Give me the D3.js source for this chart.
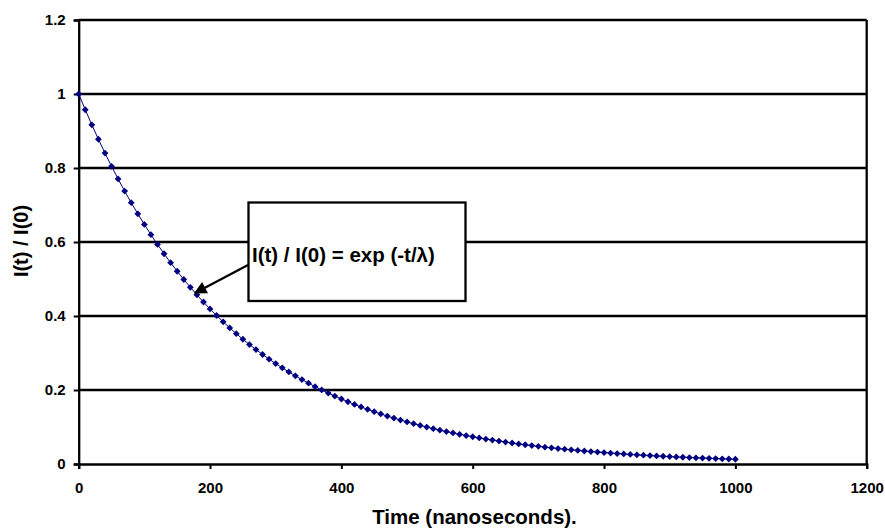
<!DOCTYPE html>
<html>
<head>
<meta charset="utf-8">
<script src="https://cdn.jsdelivr.net/npm/d3@7"></script>
<style>
  body { margin: 0; background: #fff; }
  svg { display: block; font-family: Arial, "Liberation Sans", sans-serif; }
</style>
</head>
<body>
<svg id="chart" width="885" height="529"></svg>
<script>
// time axis, ns
const times = [0, 10, 20, 30, 40, 50, 60, 70, 80, 90,
  100, 110, 120, 130, 140, 150, 160, 170, 180, 190,
  200, 210, 220, 230, 240, 250, 260, 270, 280, 290,
  300, 310, 320, 330, 340, 350, 360, 370, 380, 390,
  400, 410, 420, 430, 440, 450, 460, 470, 480, 490,
  500, 510, 520, 530, 540, 550, 560, 570, 580, 590,
  600, 610, 620, 630, 640, 650, 660, 670, 680, 690,
  700, 710, 720, 730, 740, 750, 760, 770, 780, 790,
  800, 810, 820, 830, 840, 850, 860, 870, 880, 890,
  900, 910, 920, 930, 940, 950, 960, 970, 980, 990, 1000]

// I(t)/I(0)
const ratio = [1, 0.9575, 0.9167, 0.8777, 0.8404, 0.8046, 0.7704, 0.7376, 0.7062, 0.6762,
  0.6474, 0.6199, 0.5935, 0.5682, 0.5441, 0.5209, 0.4987, 0.4775, 0.4572, 0.4378,
  0.4191, 0.4013, 0.3842, 0.3679, 0.3522, 0.3372, 0.3229, 0.3092, 0.2960, 0.2834,
  0.2714, 0.2598, 0.2488, 0.2382, 0.2281, 0.2184, 0.2091, 0.2002, 0.1917, 0.1835,
  0.1757, 0.1682, 0.1611, 0.1542, 0.1477, 0.1414, 0.1353, 0.1296, 0.1241, 0.1188,
  0.1137, 0.1089, 0.1043, 0.0998, 0.0956, 0.0915, 0.0876, 0.0839, 0.0803, 0.0769,
  0.0736, 0.0705, 0.0675, 0.0646, 0.0619, 0.0592, 0.0567, 0.0543, 0.0520, 0.0498,
  0.0477, 0.0456, 0.0437, 0.0418, 0.0401, 0.0383, 0.0367, 0.0352, 0.0337, 0.0322,
  0.0309, 0.0295, 0.0283, 0.0271, 0.0259, 0.0248, 0.0238, 0.0228, 0.0218, 0.0209,
  0.0200, 0.0191, 0.0183, 0.0175, 0.0168, 0.0161, 0.0154, 0.0147, 0.0141, 0.0135, 0.0129]

const xTicks = [0, 200, 400, 600, 800, 1000, 1200]
const yTicks = [0, 0.2, 0.4, 0.6, 0.8, 1, 1.2]

const formula = 'I(t) / I(0) = exp (-t/λ)'
const xTitle = 'Time (nanoseconds).'
const yTitle = 'I(t) / I(0)'

const plotLeft = 78.7
const plotRight = 866.7
const plotTop = 20
const plotBottom = 464

const svg = d3.select('#chart')

const x = d3.scaleLinear().domain([0, 1200]).range([plotLeft, plotRight])
const y = d3.scaleLinear().domain([0, 1.2]).range([plotBottom, plotTop])

// grid lines
svg.append('g')
  .selectAll('line')
  .data(yTicks.filter(d => d > 0))
  .join('line')
  .attr('x1', plotLeft).attr('x2', plotRight)
  .attr('y1', d => y(d)).attr('y2', d => y(d))
  .attr('stroke', '#000').attr('stroke-width', 2.3)

// right border
svg.append('line')
  .attr('x1', plotRight).attr('x2', plotRight)
  .attr('y1', plotTop).attr('y2', plotBottom)
  .attr('stroke', '#000').attr('stroke-width', 2.3)

const yAxis = svg.append('g')
  .attr('transform', `translate(${plotLeft},0)`)
  .call(d3.axisLeft(y).tickValues(yTicks).tickSize(5).tickPadding(8)
    .tickFormat(d => String(+d.toFixed(1))))

const xAxis = svg.append('g')
  .attr('transform', `translate(0,${plotBottom})`)
  .call(d3.axisBottom(x).tickValues(xTicks).tickSize(5).tickPadding(13)
    .tickFormat(d3.format('d')))

for (const ax of [xAxis, yAxis]) {
  ax.select('.domain').attr('stroke', '#000').attr('stroke-width', 2.3)
  ax.selectAll('.tick line').attr('stroke', '#000').attr('stroke-width', 2)
  ax.selectAll('text')
    .attr('fill', '#000')
    .style('font-size', '15px')
    .style('font-weight', 'bold')
}

// data line + markers
const pts = times.map((t, i) => [t, ratio[i]])
svg.append('path')
  .datum(pts)
  .attr('fill', 'none')
  .attr('stroke', '#000080')
  .attr('stroke-width', 1)
  .attr('d', d3.line().x(d => x(d[0])).y(d => y(d[1])))

svg.append('g')
  .selectAll('path')
  .data(pts)
  .join('path')
  .attr('transform', d => `translate(${x(d[0])},${y(d[1])})`)
  .attr('d', 'M0,-3.4L3.4,0L0,3.4L-3.4,0Z')
  .attr('fill', '#000080')

// annotation box
svg.append('rect')
  .attr('x', 248.5).attr('y', 202.5)
  .attr('width', 217).attr('height', 98.5)
  .attr('fill', '#fff')
  .attr('stroke', '#000').attr('stroke-width', 2.3)

svg.append('text')
  .attr('x', 252).attr('y', 262)
  .attr('fill', '#000')
  .style('font-size', '20.5px')
  .style('font-weight', 'bold')
  .text(formula)

svg.append('defs').append('marker')
  .attr('id', 'arrow')
  .attr('viewBox', '0 0 10 10')
  .attr('refX', 9).attr('refY', 5)
  .attr('markerWidth', 6).attr('markerHeight', 5.5)
  .attr('markerUnits', 'strokeWidth')
  .attr('orient', 'auto')
  .append('path')
  .attr('d', 'M0,0L10,5L0,10Z')
  .attr('fill', '#000')

svg.append('line')
  .attr('x1', 248).attr('y1', 265)
  .attr('x2', 195).attr('y2', 293)
  .attr('stroke', '#000').attr('stroke-width', 2.3)
  .attr('marker-end', 'url(#arrow)')

// axis titles (nudged up so the parentheses are not clipped)
svg.append('text')
  .attr('x', 474.5).attr('y', 524)
  .attr('text-anchor', 'middle')
  .style('font-size', '20.5px')
  .style('font-weight', 'bold')
  .text(xTitle)

svg.append('text')
  .attr('transform', 'translate(28,241) rotate(-90)')
  .attr('text-anchor', 'middle')
  .style('font-size', '20px')
  .style('font-weight', 'bold')
  .text(yTitle)
</script>
</body>
</html>
